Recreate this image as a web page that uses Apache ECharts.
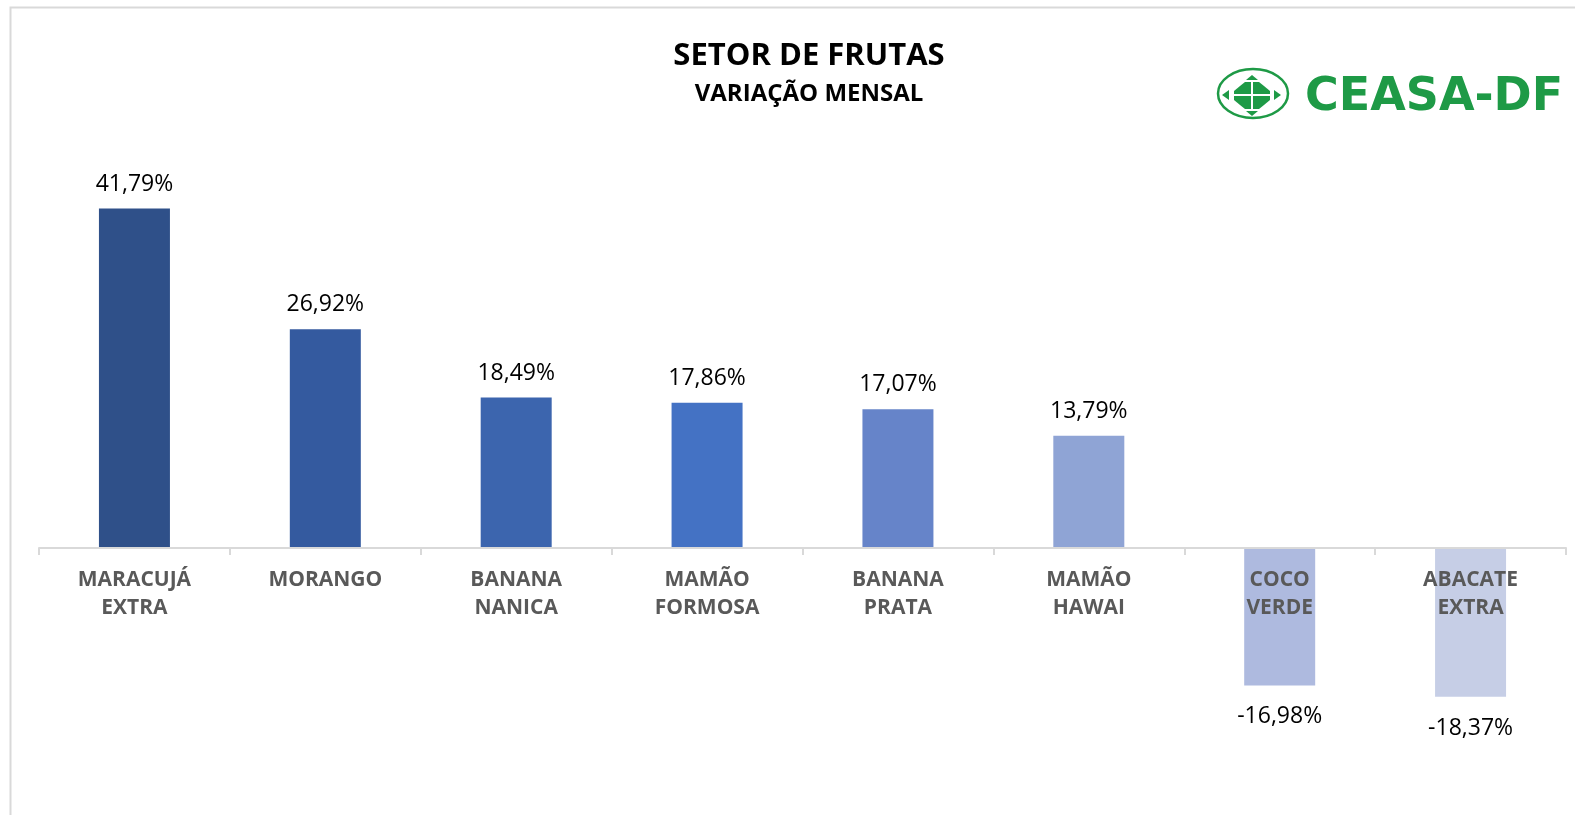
<!DOCTYPE html>
<html lang="pt">
  <head>
    <meta charset="UTF-8" />
    <title>Setor de Frutas</title>
    <script src="https://cdn.jsdelivr.net/npm/echarts@6/dist/echarts.min.js"></script>
  </head>
  <style>
    body,
    html {
      margin: 0;
      height: 100%;
      background: #fff;
    }
  </style>
  <body>
    <div id="chart" style="width:1575px;height:815px"></div>
  </body>
  <script>
    // dados
    var categorias = [
      "MARACUJÁ\nEXTRA",
      "MORANGO",
      "BANANA\nNANICA",
      "MAMÃO\nFORMOSA",
      "BANANA\nPRATA",
      "MAMÃO\nHAWAI",
      "COCO\nVERDE",
      "ABACATE\nEXTRA"
    ];
    var variacao = [41.79, 26.92, 18.49, 17.86, 17.07, 13.79, -16.98, -18.37];
    var cores = [
      "#2F5089",
      "#345A9F",
      "#3C65AE",
      "#4472C4",
      "#6684C9",
      "#8FA4D5",
      "#AEBADF",
      "#C6CEE6"
    ];

    var verde = "#1E9A46";
    var font = "'Open Sans', sans-serif";

    // grid: topo 142, base 791 -> zero em ~548
    var gridTop = 142;
    var gridBottom = 24;
    var yMin = -30;
    var yMax = 50;
    var plotH = 815 - gridTop - gridBottom;
    var zeroOffset = -Math.round((plotH * -yMin) / (yMax - yMin));

    var dados = variacao.map(function(v, i) {
      return {
        value: v,
        itemStyle: { color: cores[i] },
        label: {
          position: v < 0 ? "bottom" : "top",
          distance: v < 0 ? 20 : 13
        }
      };
    });

    var option = {
      backgroundColor: "#fff",
      animation: false,
      title: {
        text: "SETOR DE FRUTAS",
        subtext: "VARIAÇÃO MENSAL",
        left: 804,
        textAlign: "center",
        top: 36,
        itemGap: 10,
        textStyle: {
          fontFamily: font,
          fontSize: 31,
          fontWeight: "bold",
          color: "#000"
        },
        subtextStyle: {
          fontFamily: font,
          fontSize: 24,
          fontWeight: "bold",
          color: "#000"
        }
      },
      grid: {
        left: 39,
        right: 9,
        top: gridTop,
        bottom: gridBottom,
        outerBoundsMode: "none"
      },
      xAxis: {
        type: "category",
        data: categorias,
        z: 10,
        offset: zeroOffset,
        axisLine: {
          onZero: false,
          lineStyle: { color: "#D9D9D9", width: 2 }
        },
        axisTick: {
          show: true,
          length: 7,
          lineStyle: { color: "#D9D9D9", width: 2 }
        },
        axisLabel: {
          margin: 18,
          fontFamily: font,
          fontSize: 21,
          fontWeight: "bold",
          color: "#595959",
          lineHeight: 28
        }
      },
      yAxis: {
        type: "value",
        min: yMin,
        max: yMax,
        show: false,
        splitLine: { show: false }
      },
      series: [
        {
          type: "bar",
          data: dados,
          barWidth: 71,
          label: {
            show: true,
            fontFamily: font,
            fontSize: 23,
            color: "#000",
            formatter: function(p) {
              return p.value.toFixed(2).replace(".", ",") + "%";
            }
          }
        }
      ],
      graphic: [
        // moldura
        {
          type: "rect",
          shape: { x: 10.5, y: 7.5, width: 1700, height: 900 },
          style: { fill: null, stroke: "#D9D9D9", lineWidth: 2 },
          silent: true
        },
        // logo CEASA-DF
        {
          type: "ellipse",
          shape: { cx: 1253, cy: 93.5, rx: 35, ry: 24.5 },
          style: { fill: null, stroke: verde, lineWidth: 2.5 }
        },
        {
          type: "polygon",
          shape: {
            points: [
              [1245, 82], [1259, 82], [1264, 86], [1270, 91], [1270, 100],
              [1264, 105], [1259, 109], [1245, 109], [1240, 105], [1234, 100],
              [1234, 91], [1240, 86]
            ]
          },
          style: { fill: verde }
        },
        {
          type: "rect",
          shape: { x: 1251, y: 82, width: 2, height: 27 },
          style: { fill: "#fff" }
        },
        {
          type: "rect",
          shape: { x: 1234, y: 94, width: 36, height: 2 },
          style: { fill: "#fff" }
        },
        {
          type: "polygon",
          shape: { points: [[1252, 75], [1246, 80], [1258, 80]] },
          style: { fill: verde }
        },
        {
          type: "polygon",
          shape: { points: [[1252, 116], [1246, 111], [1258, 111]] },
          style: { fill: verde }
        },
        {
          type: "polygon",
          shape: { points: [[1222, 95], [1229, 90], [1229, 100]] },
          style: { fill: verde }
        },
        {
          type: "polygon",
          shape: { points: [[1281, 95], [1274, 90], [1274, 100]] },
          style: { fill: verde }
        },
        {
          type: "text",
          x: 1305,
          y: 98,
          style: {
            text: "CEASA-DF",
            fill: verde,
            font: "bold 46px 'DejaVu Sans'",
            textVerticalAlign: "middle"
          }
        }
      ]
    };

    var grafico = echarts.init(document.querySelector("#chart"));
    grafico.setOption(option);
  </script>
</html>
